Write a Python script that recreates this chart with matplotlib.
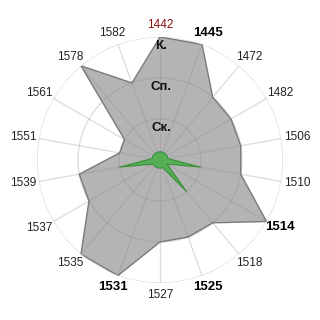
import numpy as np
import matplotlib
matplotlib.use('Agg')
import matplotlib.pyplot as plt

plt.rcParams['font.family'] = ['Liberation Sans', 'DejaVu Sans']

categories = ['1442', '1445', '1472', '1482', '1506', '1510', '1514', '1518', '1525',
              '1527', '1531', '1535', '1537', '1539', '1551', '1561', '1578', '1582']
gray_vals = [3, 3, 2, 2, 2, 2, 3, 2, 2, 2, 3, 3, 2, 2, 1, 1, 3, 2]
green_vals = [0.2, 0.2, 0.2, 0.2, 0.2, 1, 0.2, 1, 0.2, 0.2, 0.2, 0.2, 0.2, 1, 0.2, 0.2, 0.2, 0.2]
level_labels = ['Ск.', 'Сп.', 'К.']
bold_labels = ['1445', '1514', '1525', '1531']
red_labels = ['1442']

n = len(categories)
theta = np.arange(n) * 2 * np.pi / n

fig = plt.figure(figsize=(3.2, 3.2), dpi=100)
ax = fig.add_axes([37 / 320, 37 / 320, 246 / 320, 246 / 320], projection='polar')
ax.set_theta_zero_location('N')
ax.set_theta_direction(-1)
ax.set_ylim(0, 3)
ax.set_xticks([])
ax.set_yticks([])
ax.grid(False)
ax.spines['polar'].set_visible(False)

tc = np.append(theta, theta[0])
g = np.append(gray_vals, gray_vals[0])
ax.fill(tc, g, color='#b4b4b4', zorder=1, lw=0)

# grid: rings and spokes, drawn over the gray area
t = np.linspace(0, 2 * np.pi, 400)
for lv in [1, 2, 3]:
    ax.plot(t, np.full_like(t, lv), color='#8a8a8a', alpha=0.3, lw=0.9, zorder=2)
for th in theta:
    ax.plot([th, th], [0, 3], color='#8a8a8a', alpha=0.3, lw=0.9, zorder=2)

ax.plot(tc, g, color='#7a7a7a', lw=1, zorder=3)

gr = np.append(green_vals, green_vals[0])
ax.fill(tc, gr, color='#4cae4c', alpha=0.9, zorder=4, lw=0)
ax.plot(tc, gr, color='#3a8f3a', lw=0.8, zorder=5)

# category labels
for th, lab in zip(theta, categories):
    dx = np.sin(th) * 16 * 0.72
    dy = np.cos(th) * 12 * 0.72
    color = '#222222'
    weight = 'normal'
    size = 8.5
    if lab in bold_labels:
        weight = 'bold'
        color = 'black'
        size = 9.5
    if lab in red_labels:
        color = '#8b1010'
    ax.annotate(lab, (th, 3), xytext=(dx, dy), textcoords='offset points',
                ha='center', va='center', fontsize=size, fontweight=weight,
                color=color, zorder=6, annotation_clip=False)

# level labels
for i, lab in enumerate(level_labels):
    ax.annotate(lab, (0, i + 1), xytext=(1, -9 * 0.72), textcoords='offset points',
                ha='center', va='center', fontsize=9.5, fontweight='bold',
                color='#111111', zorder=6)

fig.savefig('out.png', dpi=100)
